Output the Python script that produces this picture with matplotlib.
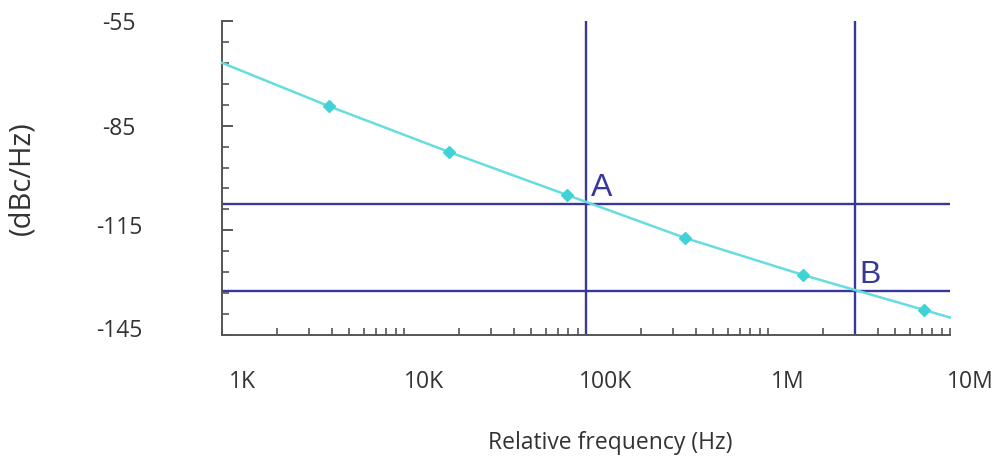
import numpy as np
import matplotlib
matplotlib.use("Agg")
import matplotlib.pyplot as plt
from matplotlib.ticker import FixedLocator, FixedFormatter, NullFormatter
from matplotlib.transforms import ScaledTranslation

plt.rcParams['font.family'] = ['Open Sans', 'DejaVu Sans']

# Phase-noise curve: offset frequency (Hz) vs level (dBc/Hz)
freq_hz = [1e3, 3.86e3, 17.6e3, 79e3, 351e3, 1.56e6, 7.18e6, 10e6]
noise_dbc = [-67.0, -79.4, -92.5, -104.9, -117.2, -127.8, -137.8, -140.0]
marker_idx = [1, 2, 3, 4, 5, 6]

# Reference points A and B
point_names = ['A', 'B']
point_freq = [100e3, 3e6]
point_level = [-107.4, -132.4]

x_ticks = [1e3, 1e4, 1e5, 1e6, 1e7]
x_labels = ['1K', '10K', '100K', '1M', '10M']
y_ticks = [-55, -85, -115, -145]

W, H = 1001, 465
fig = plt.figure(figsize=(W / 100, H / 100), dpi=100)
ax = fig.add_axes([222 / W, 1 - 335 / H, (950 - 222) / W, (335 - 21) / H])

cyan = '#66dde0'
navy = '#38389c'
axis_col = '#555555'
text_col = '#333333'

ax.set_xscale('log')
ax.set_xlim(1e3, 1e7)
ax.set_ylim(-145, -55)

# Marker lines
for f in point_freq:
    ax.axvline(f, color=navy, lw=1.7, zorder=2)
for lv in point_level:
    ax.axhline(lv, color=navy, lw=1.7, zorder=2)

ax.plot(freq_hz, noise_dbc, color=cyan, lw=1.8, zorder=3, clip_on=False)
ax.plot([freq_hz[i] for i in marker_idx], [noise_dbc[i] for i in marker_idx],
        ls='none', marker='D', ms=6, color='#3fd3d6', mec='#3fd3d6', zorder=4)

for name, f, lv in zip(point_names, point_freq, point_level):
    ax.annotate(name, (f, lv), xytext=(5, 1), textcoords='offset pixels',
                ha='left', va='bottom', fontsize=23, color=navy,
                family=['Liberation Sans', 'DejaVu Sans'], zorder=5)

for s in ['top', 'right']:
    ax.spines[s].set_visible(False)
for s in ['left', 'bottom']:
    ax.spines[s].set_color(axis_col)
    ax.spines[s].set_linewidth(1.4)

# y axis
ax.yaxis.set_major_locator(FixedLocator(y_ticks))
ax.yaxis.set_minor_locator(FixedLocator(np.arange(-145, -54, 6)))
ax.yaxis.set_minor_formatter(NullFormatter())
ax.set_yticklabels([str(v) for v in y_ticks])
ax.tick_params(axis='y', which='major', direction='in', length=8, width=1.4,
               color=axis_col, pad=74, labelsize=16.5, labelcolor=text_col)
ax.tick_params(axis='y', which='minor', direction='in', length=5, width=1.2,
               color=axis_col)
y_nudge = [0, 0, 5, 7]
for lab, dy in zip(ax.get_yticklabels(), y_nudge):
    lab.set_horizontalalignment('center')
    lab.set_transform(lab.get_transform() + ScaledTranslation(0, dy / 100, fig.dpi_scale_trans))

# x axis
ax.xaxis.set_major_locator(FixedLocator(x_ticks))
ax.xaxis.set_major_formatter(FixedFormatter(x_labels))
minor = [m * d for d in x_ticks[:-1] for m in range(2, 10)]
ax.xaxis.set_minor_locator(FixedLocator(minor))
ax.xaxis.set_minor_formatter(NullFormatter())
ax.tick_params(axis='x', which='both', direction='in', length=5, width=1.2,
               color=axis_col, pad=25, labelsize=16.5, labelcolor=text_col)
shift = ScaledTranslation(20 / 100, 0, fig.dpi_scale_trans)
for lab in ax.get_xticklabels():
    lab.set_transform(lab.get_transform() + shift)

fig.text(610 / W, 1 - 443 / H, 'Relative frequency (Hz)', ha='center', va='center',
         fontsize=16.5, color=text_col)
fig.text(22 / W, 1 - 178 / H, '(dBc/Hz)', ha='center', va='center', rotation=90,
         fontsize=21, color=text_col)

fig.savefig('out.png', dpi=100, facecolor='white')
